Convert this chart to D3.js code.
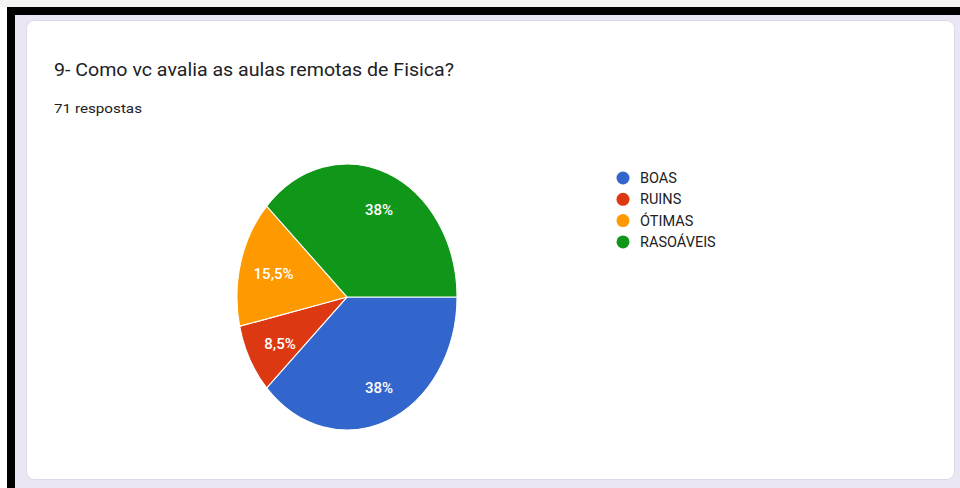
<!DOCTYPE html>
<html>
<head>
<meta charset="utf-8">
<script src="https://cdn.jsdelivr.net/npm/d3@7"></script>
<style>
  body { margin: 0; background: #fff; }
  text { font-family: Roboto, "Noto Sans", sans-serif; }
</style>
</head>
<body>
<div id="chart"></div>
<script>
var categories = ["BOAS", "RUINS", "ÓTIMAS", "RASOÁVEIS"];
var counts = [27, 6, 11, 27];
var sliceLabels = ["38%", "8,5%", "15,5%", "38%"];
var colors = ["#3366cc", "#dc3912", "#ff9900", "#109618"];

var title = "9- Como vc avalia as aulas remotas de Fisica?";
var subtitle = "71 respostas";

var width = 960,
    height = 488;

var svg = d3.select("#chart")
    .append("svg")
    .attr("width", width)
    .attr("height", height);

// frame: black border, lavender page, white card
svg.append("rect").attr("x", 0).attr("y", 0).attr("width", width).attr("height", 7).attr("fill", "#f4f4f4");
svg.append("rect").attr("x", 7).attr("y", 7).attr("width", width - 7).attr("height", height - 7).attr("fill", "#000");
svg.append("rect").attr("x", 15).attr("y", 15).attr("width", width - 15).attr("height", height - 15).attr("fill", "#ebe6f3");
svg.append("rect")
    .attr("x", 26.5).attr("y", 20.5)
    .attr("width", 928).attr("height", 459)
    .attr("rx", 8)
    .attr("fill", "#fff")
    .attr("stroke", "#dcd8e6");

svg.append("text")
    .attr("x", 54).attr("y", 76)
    .attr("font-size", 18)
    .attr("fill", "#202124")
    .attr("textLength", 400)
    .attr("lengthAdjust", "spacingAndGlyphs")
    .text(title);

svg.append("text")
    .attr("x", 54).attr("y", 113)
    .attr("font-size", 13)
    .attr("fill", "#202124")
    .attr("textLength", 88)
    .attr("lengthAdjust", "spacingAndGlyphs")
    .text(subtitle);

var data = categories.map(function(c, i) {
    return {name: c, value: counts[i], label: sliceLabels[i], color: colors[i]};
});

// pie starts at 3 o'clock, clockwise
var pie = d3.pie()
    .sort(null)
    .value(function(d) { return d.value; })
    .startAngle(Math.PI / 2)
    .endAngle(Math.PI / 2 + 2 * Math.PI);

var rx = 110, ry = 133;
var cx = 347, cy = 297;

var arc = d3.arc().innerRadius(0).outerRadius(rx);
var labelArc = d3.arc().innerRadius(rx * 0.72).outerRadius(rx * 0.72);

var arcs = pie(data);

var g = svg.append("g")
    .attr("transform", "translate(" + cx + "," + cy + ") scale(1," + (ry / rx) + ")");

g.selectAll("path")
    .data(arcs)
    .enter()
    .append("path")
    .attr("d", arc)
    .attr("fill", function(d) { return d.data.color; })
    .attr("stroke", "#fff")
    .attr("stroke-width", 1);

svg.selectAll(".slice-label")
    .data(arcs)
    .enter()
    .append("text")
    .attr("class", "slice-label")
    .attr("x", function(d) { return cx + 3 + labelArc.centroid(d)[0]; })
    .attr("y", function(d) { return cy + 2 + labelArc.centroid(d)[1] * ry / rx; })
    .attr("dy", "0.35em")
    .attr("text-anchor", "middle")
    .attr("font-size", 15)
    .attr("font-weight", 500)
    .attr("fill", "#fff")
    .text(function(d) { return d.data.label; });

var legend = svg.selectAll(".legend")
    .data(data)
    .enter()
    .append("g")
    .attr("class", "legend")
    .attr("transform", function(d, i) { return "translate(623," + (178 + i * 21.3) + ")"; });

legend.append("circle")
    .attr("r", 6.5)
    .attr("fill", function(d) { return d.color; });

legend.append("text")
    .attr("x", 17)
    .attr("dy", "0.35em")
    .attr("font-size", 14.5)
    .attr("fill", "#202124")
    .text(function(d) { return d.name; });
</script>
</body>
</html>
